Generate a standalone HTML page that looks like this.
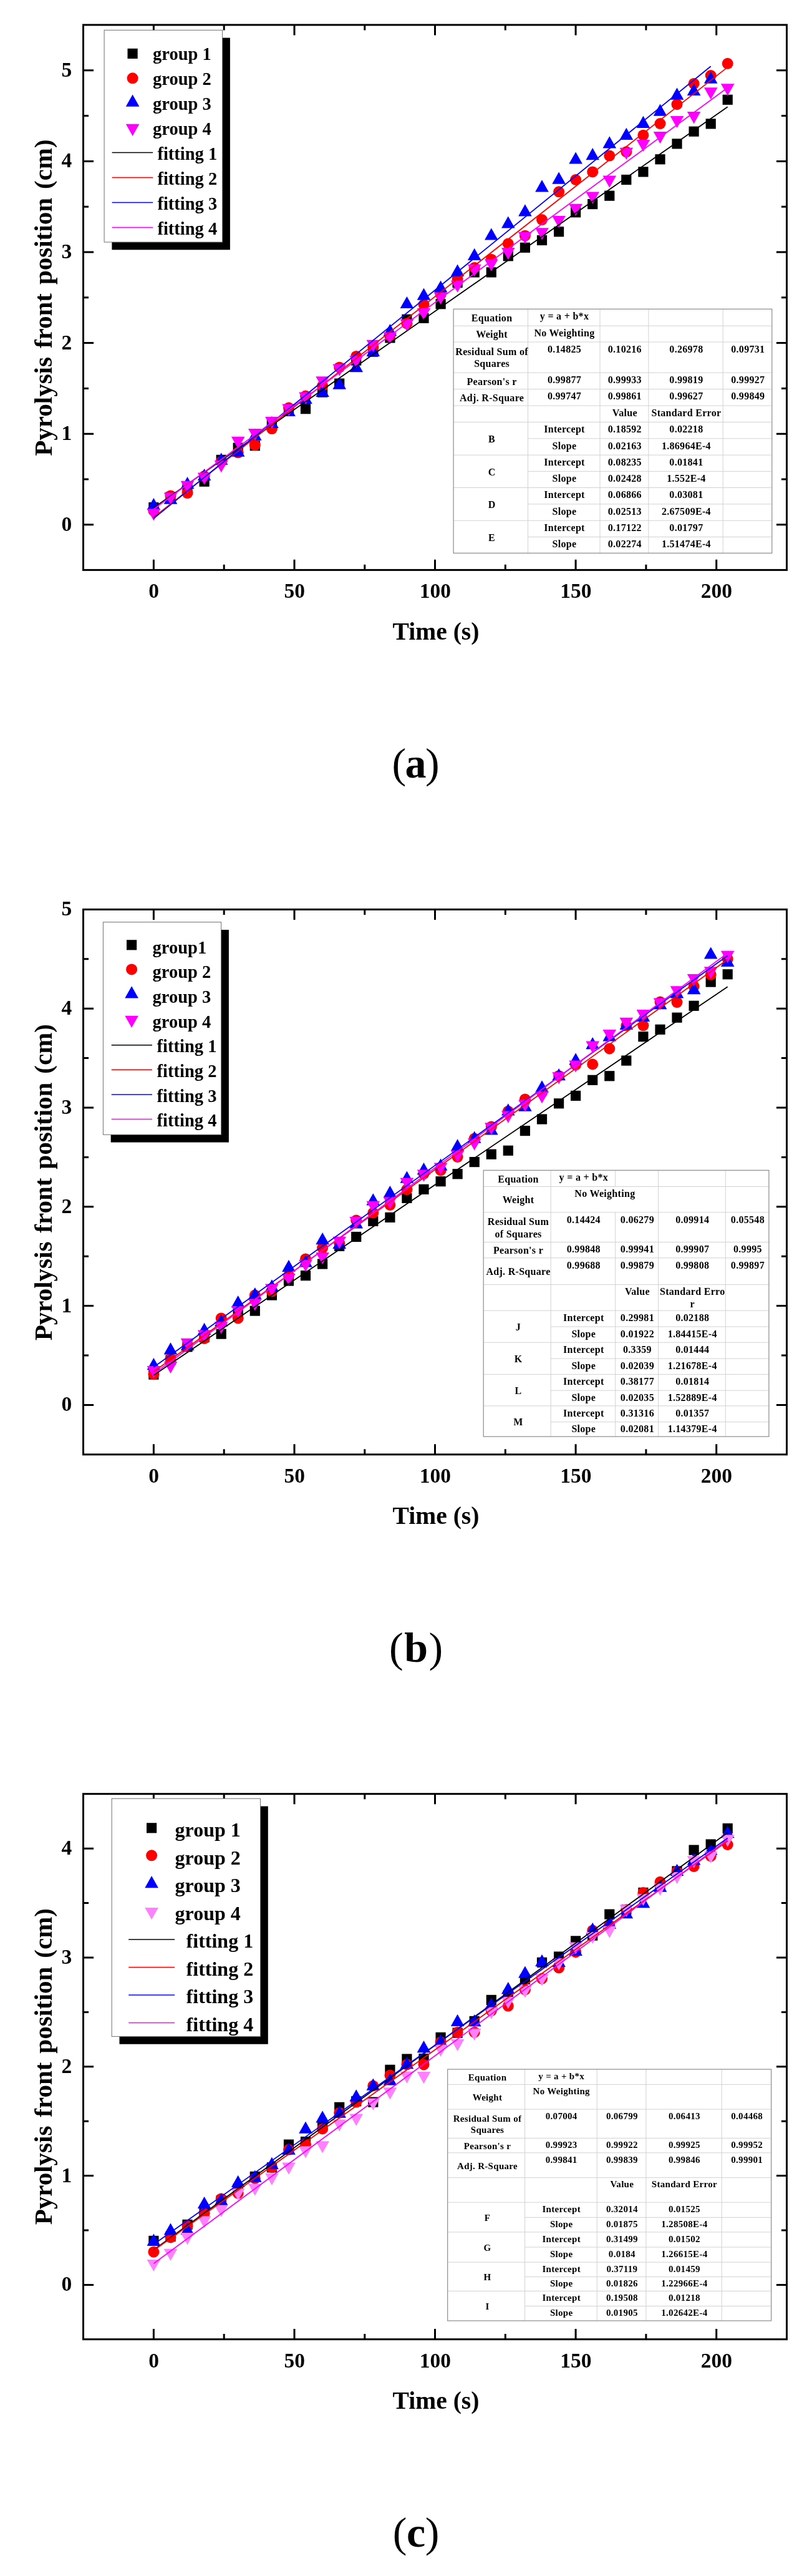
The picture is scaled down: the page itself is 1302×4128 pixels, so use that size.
<!DOCTYPE html>
<html lang="en"><head><meta charset="utf-8"><title>Pyrolysis front position vs time</title>
<style>html,body{margin:0;padding:0;background:#fff}body{width:1302px;height:4128px;overflow:hidden}svg{display:block;will-change:transform}</style>
</head><body>
<svg width="1302" height="4128" viewBox="0 0 1302 4128">
<g id="chart-a">
<rect x="238.3" y="805.0" width="16.2" height="16.2" fill="#000000"/>
<rect x="265.4" y="788.5" width="16.2" height="16.2" fill="#000000"/>
<rect x="292.4" y="771.1" width="16.2" height="16.2" fill="#000000"/>
<rect x="319.5" y="763.6" width="16.2" height="16.2" fill="#000000"/>
<rect x="346.6" y="728.8" width="16.2" height="16.2" fill="#000000"/>
<rect x="373.6" y="709.5" width="16.2" height="16.2" fill="#000000"/>
<rect x="400.7" y="706.1" width="16.2" height="16.2" fill="#000000"/>
<rect x="427.8" y="670.6" width="16.2" height="16.2" fill="#000000"/>
<rect x="454.9" y="648.7" width="16.2" height="16.2" fill="#000000"/>
<rect x="481.9" y="647.1" width="16.2" height="16.2" fill="#000000"/>
<rect x="509.0" y="620.5" width="16.2" height="16.2" fill="#000000"/>
<rect x="536.1" y="606.5" width="16.2" height="16.2" fill="#000000"/>
<rect x="563.1" y="569.5" width="16.2" height="16.2" fill="#000000"/>
<rect x="590.2" y="555.6" width="16.2" height="16.2" fill="#000000"/>
<rect x="617.3" y="533.3" width="16.2" height="16.2" fill="#000000"/>
<rect x="644.3" y="503.7" width="16.2" height="16.2" fill="#000000"/>
<rect x="671.4" y="501.7" width="16.2" height="16.2" fill="#000000"/>
<rect x="698.5" y="479.1" width="16.2" height="16.2" fill="#000000"/>
<rect x="725.5" y="444.9" width="16.2" height="16.2" fill="#000000"/>
<rect x="752.6" y="428.3" width="16.2" height="16.2" fill="#000000"/>
<rect x="779.7" y="428.3" width="16.2" height="16.2" fill="#000000"/>
<rect x="806.7" y="402.2" width="16.2" height="16.2" fill="#000000"/>
<rect x="833.8" y="388.7" width="16.2" height="16.2" fill="#000000"/>
<rect x="860.9" y="376.9" width="16.2" height="16.2" fill="#000000"/>
<rect x="888.0" y="363.2" width="16.2" height="16.2" fill="#000000"/>
<rect x="915.0" y="332.2" width="16.2" height="16.2" fill="#000000"/>
<rect x="942.1" y="319.0" width="16.2" height="16.2" fill="#000000"/>
<rect x="969.2" y="305.6" width="16.2" height="16.2" fill="#000000"/>
<rect x="996.2" y="279.9" width="16.2" height="16.2" fill="#000000"/>
<rect x="1023.3" y="267.3" width="16.2" height="16.2" fill="#000000"/>
<rect x="1050.4" y="247.2" width="16.2" height="16.2" fill="#000000"/>
<rect x="1077.4" y="222.3" width="16.2" height="16.2" fill="#000000"/>
<rect x="1104.5" y="202.6" width="16.2" height="16.2" fill="#000000"/>
<rect x="1131.6" y="190.3" width="16.2" height="16.2" fill="#000000"/>
<rect x="1158.6" y="151.7" width="16.2" height="16.2" fill="#000000"/>
<circle cx="246.4" cy="818.5" r="9.0" fill="#ff0000"/>
<circle cx="273.5" cy="794.4" r="9.0" fill="#ff0000"/>
<circle cx="300.5" cy="790.1" r="9.0" fill="#ff0000"/>
<circle cx="327.6" cy="763.1" r="9.0" fill="#ff0000"/>
<circle cx="354.7" cy="739.8" r="9.0" fill="#ff0000"/>
<circle cx="381.7" cy="725.3" r="9.0" fill="#ff0000"/>
<circle cx="408.8" cy="713.2" r="9.0" fill="#ff0000"/>
<circle cx="435.9" cy="687.1" r="9.0" fill="#ff0000"/>
<circle cx="463.0" cy="653.6" r="9.0" fill="#ff0000"/>
<circle cx="490.0" cy="634.6" r="9.0" fill="#ff0000"/>
<circle cx="517.1" cy="618.3" r="9.0" fill="#ff0000"/>
<circle cx="544.2" cy="588.7" r="9.0" fill="#ff0000"/>
<circle cx="571.2" cy="570.9" r="9.0" fill="#ff0000"/>
<circle cx="598.3" cy="556.2" r="9.0" fill="#ff0000"/>
<circle cx="625.4" cy="537.9" r="9.0" fill="#ff0000"/>
<circle cx="652.4" cy="518.4" r="9.0" fill="#ff0000"/>
<circle cx="679.5" cy="488.1" r="9.0" fill="#ff0000"/>
<circle cx="706.6" cy="471.9" r="9.0" fill="#ff0000"/>
<circle cx="733.6" cy="446.7" r="9.0" fill="#ff0000"/>
<circle cx="760.7" cy="429.0" r="9.0" fill="#ff0000"/>
<circle cx="787.8" cy="415.7" r="9.0" fill="#ff0000"/>
<circle cx="814.8" cy="390.5" r="9.0" fill="#ff0000"/>
<circle cx="841.9" cy="377.7" r="9.0" fill="#ff0000"/>
<circle cx="869.0" cy="352.1" r="9.0" fill="#ff0000"/>
<circle cx="896.1" cy="307.3" r="9.0" fill="#ff0000"/>
<circle cx="923.1" cy="288.0" r="9.0" fill="#ff0000"/>
<circle cx="950.2" cy="275.4" r="9.0" fill="#ff0000"/>
<circle cx="977.3" cy="249.6" r="9.0" fill="#ff0000"/>
<circle cx="1004.3" cy="243.3" r="9.0" fill="#ff0000"/>
<circle cx="1031.4" cy="216.7" r="9.0" fill="#ff0000"/>
<circle cx="1058.5" cy="198.1" r="9.0" fill="#ff0000"/>
<circle cx="1085.5" cy="167.2" r="9.0" fill="#ff0000"/>
<circle cx="1112.6" cy="133.9" r="9.0" fill="#ff0000"/>
<circle cx="1139.7" cy="121.0" r="9.0" fill="#ff0000"/>
<circle cx="1166.7" cy="101.8" r="9.0" fill="#ff0000"/>
<polygon points="246.4,797.9 257.2,817.1 235.6,817.1" fill="#0000ff"/>
<polygon points="273.5,788.5 284.3,807.7 262.7,807.7" fill="#0000ff"/>
<polygon points="300.5,764.0 311.3,783.2 289.7,783.2" fill="#0000ff"/>
<polygon points="327.6,750.9 338.4,770.1 316.8,770.1" fill="#0000ff"/>
<polygon points="354.7,725.6 365.5,744.8 343.9,744.8" fill="#0000ff"/>
<polygon points="381.7,712.5 392.5,731.7 370.9,731.7" fill="#0000ff"/>
<polygon points="408.8,686.6 419.6,705.8 398.0,705.8" fill="#0000ff"/>
<polygon points="435.9,666.8 446.7,686.0 425.1,686.0" fill="#0000ff"/>
<polygon points="463.0,647.7 473.8,666.9 452.2,666.9" fill="#0000ff"/>
<polygon points="490.0,627.9 500.8,647.1 479.2,647.1" fill="#0000ff"/>
<polygon points="517.1,616.7 527.9,635.9 506.3,635.9" fill="#0000ff"/>
<polygon points="544.2,604.6 555.0,623.8 533.4,623.8" fill="#0000ff"/>
<polygon points="571.2,577.1 582.0,596.3 560.4,596.3" fill="#0000ff"/>
<polygon points="598.3,551.9 609.1,571.1 587.5,571.1" fill="#0000ff"/>
<polygon points="625.4,519.1 636.2,538.3 614.6,538.3" fill="#0000ff"/>
<polygon points="652.4,474.9 663.2,494.1 641.6,494.1" fill="#0000ff"/>
<polygon points="679.5,461.5 690.3,480.7 668.7,480.7" fill="#0000ff"/>
<polygon points="706.6,449.4 717.4,468.6 695.8,468.6" fill="#0000ff"/>
<polygon points="733.6,423.6 744.4,442.8 722.8,442.8" fill="#0000ff"/>
<polygon points="760.7,397.8 771.5,417.0 749.9,417.0" fill="#0000ff"/>
<polygon points="787.8,365.4 798.6,384.6 777.0,384.6" fill="#0000ff"/>
<polygon points="814.8,346.4 825.6,365.6 804.0,365.6" fill="#0000ff"/>
<polygon points="841.9,327.2 852.7,346.4 831.1,346.4" fill="#0000ff"/>
<polygon points="869.0,288.2 879.8,307.4 858.2,307.4" fill="#0000ff"/>
<polygon points="896.1,275.5 906.9,294.7 885.3,294.7" fill="#0000ff"/>
<polygon points="923.1,243.4 933.9,262.6 912.3,262.6" fill="#0000ff"/>
<polygon points="950.2,237.1 961.0,256.3 939.4,256.3" fill="#0000ff"/>
<polygon points="977.3,218.2 988.1,237.4 966.5,237.4" fill="#0000ff"/>
<polygon points="1004.3,204.8 1015.1,224.0 993.5,224.0" fill="#0000ff"/>
<polygon points="1031.4,185.7 1042.2,204.9 1020.6,204.9" fill="#0000ff"/>
<polygon points="1058.5,166.5 1069.3,185.7 1047.7,185.7" fill="#0000ff"/>
<polygon points="1085.5,140.6 1096.3,159.8 1074.7,159.8" fill="#0000ff"/>
<polygon points="1112.6,133.9 1123.4,153.1 1101.8,153.1" fill="#0000ff"/>
<polygon points="1139.7,114.6 1150.5,133.8 1128.9,133.8" fill="#0000ff"/>
<polygon points="235.6,815.3 257.2,815.3 246.4,834.5" fill="#ff00ff"/>
<polygon points="262.7,789.4 284.3,789.4 273.5,808.6" fill="#ff00ff"/>
<polygon points="289.7,770.7 311.3,770.7 300.5,789.9" fill="#ff00ff"/>
<polygon points="316.8,757.6 338.4,757.6 327.6,776.8" fill="#ff00ff"/>
<polygon points="343.9,738.1 365.5,738.1 354.7,757.3" fill="#ff00ff"/>
<polygon points="370.9,699.7 392.5,699.7 381.7,718.9" fill="#ff00ff"/>
<polygon points="398.0,687.0 419.6,687.0 408.8,706.2" fill="#ff00ff"/>
<polygon points="425.1,668.1 446.7,668.1 435.9,687.3" fill="#ff00ff"/>
<polygon points="452.2,647.5 473.8,647.5 463.0,666.7" fill="#ff00ff"/>
<polygon points="479.2,628.5 500.8,628.5 490.0,647.7" fill="#ff00ff"/>
<polygon points="506.3,603.3 527.9,603.3 517.1,622.5" fill="#ff00ff"/>
<polygon points="533.4,583.5 555.0,583.5 544.2,602.7" fill="#ff00ff"/>
<polygon points="560.4,570.2 582.0,570.2 571.2,589.4" fill="#ff00ff"/>
<polygon points="587.5,544.7 609.1,544.7 598.3,563.9" fill="#ff00ff"/>
<polygon points="614.6,532.4 636.2,532.4 625.4,551.6" fill="#ff00ff"/>
<polygon points="641.6,511.7 663.2,511.7 652.4,530.9" fill="#ff00ff"/>
<polygon points="668.7,493.9 690.3,493.9 679.5,513.1" fill="#ff00ff"/>
<polygon points="695.8,468.7 717.4,468.7 706.6,487.9" fill="#ff00ff"/>
<polygon points="722.8,449.5 744.4,449.5 733.6,468.7" fill="#ff00ff"/>
<polygon points="749.9,423.7 771.5,423.7 760.7,442.9" fill="#ff00ff"/>
<polygon points="777.0,415.6 798.6,415.6 787.8,434.8" fill="#ff00ff"/>
<polygon points="804.0,397.1 825.6,397.1 814.8,416.3" fill="#ff00ff"/>
<polygon points="831.1,371.9 852.7,371.9 841.9,391.1" fill="#ff00ff"/>
<polygon points="858.2,365.2 879.8,365.2 869.0,384.4" fill="#ff00ff"/>
<polygon points="885.3,346.0 906.9,346.0 896.1,365.2" fill="#ff00ff"/>
<polygon points="912.3,326.8 933.9,326.8 923.1,346.0" fill="#ff00ff"/>
<polygon points="939.4,307.6 961.0,307.6 950.2,326.8" fill="#ff00ff"/>
<polygon points="966.5,281.6 988.1,281.6 977.3,300.8" fill="#ff00ff"/>
<polygon points="993.5,236.7 1015.1,236.7 1004.3,255.9" fill="#ff00ff"/>
<polygon points="1020.6,224.0 1042.2,224.0 1031.4,243.2" fill="#ff00ff"/>
<polygon points="1047.7,211.0 1069.3,211.0 1058.5,230.2" fill="#ff00ff"/>
<polygon points="1074.7,186.1 1096.3,186.1 1085.5,205.3" fill="#ff00ff"/>
<polygon points="1101.8,179.0 1123.4,179.0 1112.6,198.2" fill="#ff00ff"/>
<polygon points="1128.9,140.3 1150.5,140.3 1139.7,159.5" fill="#ff00ff"/>
<polygon points="1155.9,134.2 1177.5,134.2 1166.7,153.4" fill="#ff00ff"/>
<line x1="246.4" y1="813.7" x2="1166.7" y2="171.3" stroke="#000000" stroke-width="1.8"/>
<line x1="246.4" y1="828.8" x2="1166.7" y2="107.6" stroke="#ff0000" stroke-width="1.8"/>
<line x1="246.4" y1="830.8" x2="1139.7" y2="106.3" stroke="#0000ff" stroke-width="1.8"/>
<line x1="246.4" y1="815.9" x2="1166.7" y2="140.4" stroke="#ff00ff" stroke-width="1.8"/>
<path d="M246.4 913.4v-16.6M246.4 39.9v16.6M472.0 913.4v-16.6M472.0 39.9v16.6M697.5 913.4v-16.6M697.5 39.9v16.6M923.1 913.4v-16.6M923.1 39.9v16.6M1148.7 913.4v-16.6M1148.7 39.9v16.6M359.2 913.4v-8.6M359.2 39.9v8.6M584.8 913.4v-8.6M584.8 39.9v8.6M810.3 913.4v-8.6M810.3 39.9v8.6M1035.9 913.4v-8.6M1035.9 39.9v8.6M133.5 840.8h16.6M1261.5 840.8h-16.6M133.5 695.2h16.6M1261.5 695.2h-16.6M133.5 549.6h16.6M1261.5 549.6h-16.6M133.5 404.0h16.6M1261.5 404.0h-16.6M133.5 258.4h16.6M1261.5 258.4h-16.6M133.5 112.8h16.6M1261.5 112.8h-16.6M133.5 768.0h8.6M1261.5 768.0h-8.6M133.5 622.4h8.6M1261.5 622.4h-8.6M133.5 476.8h8.6M1261.5 476.8h-8.6M133.5 331.2h8.6M1261.5 331.2h-8.6M133.5 185.6h8.6M1261.5 185.6h-8.6" stroke="#000" stroke-width="3" fill="none"/>
<rect x="133.5" y="39.9" width="1128.0" height="873.5" fill="none" stroke="#000" stroke-width="3"/>
<g font-family='"Liberation Serif", "DejaVu Serif", serif' font-weight="bold" font-size="16" letter-spacing="0.3" text-anchor="middle" fill="#000"><rect x="727.1" y="495.3" width="510.7" height="391.1" fill="#fff"/><line x1="727.1" y1="522.2" x2="1237.8" y2="522.2" stroke="#d2d2d2" stroke-width="1"/><line x1="727.1" y1="548.0" x2="1237.8" y2="548.0" stroke="#d2d2d2" stroke-width="1"/><line x1="727.1" y1="597.2" x2="1237.8" y2="597.2" stroke="#d2d2d2" stroke-width="1"/><line x1="727.1" y1="623.6" x2="1237.8" y2="623.6" stroke="#d2d2d2" stroke-width="1"/><line x1="727.1" y1="650.1" x2="1237.8" y2="650.1" stroke="#d2d2d2" stroke-width="1"/><line x1="727.1" y1="676.4" x2="1237.8" y2="676.4" stroke="#d2d2d2" stroke-width="1"/><line x1="846.5" y1="702.8" x2="1237.8" y2="702.8" stroke="#d2d2d2" stroke-width="1"/><line x1="727.1" y1="729.2" x2="1237.8" y2="729.2" stroke="#d2d2d2" stroke-width="1"/><line x1="846.5" y1="755.3" x2="1237.8" y2="755.3" stroke="#d2d2d2" stroke-width="1"/><line x1="727.1" y1="781.5" x2="1237.8" y2="781.5" stroke="#d2d2d2" stroke-width="1"/><line x1="846.5" y1="807.8" x2="1237.8" y2="807.8" stroke="#d2d2d2" stroke-width="1"/><line x1="727.1" y1="834.2" x2="1237.8" y2="834.2" stroke="#d2d2d2" stroke-width="1"/><line x1="846.5" y1="860.4" x2="1237.8" y2="860.4" stroke="#d2d2d2" stroke-width="1"/><line x1="846.5" y1="495.3" x2="846.5" y2="886.4" stroke="#d2d2d2" stroke-width="1"/><line x1="962.0" y1="495.3" x2="962.0" y2="886.4" stroke="#d2d2d2" stroke-width="1"/><line x1="1039.9" y1="495.3" x2="1039.9" y2="886.4" stroke="#d2d2d2" stroke-width="1"/><line x1="1159.2" y1="495.3" x2="1159.2" y2="886.4" stroke="#d2d2d2" stroke-width="1"/><rect x="727.1" y="495.3" width="510.7" height="391.1" fill="none" stroke="#8c8c8c" stroke-width="1.2"/><text x="788.6" y="515.0">Equation</text><text x="788.6" y="541.3">Weight</text><text x="788.6" y="569.2">Residual Sum of</text><text x="788.6" y="588.4">Squares</text><text x="788.6" y="616.6">Pearson's r</text><text x="788.6" y="643.1">Adj. R-Square</text><text x="905.0" y="512.0">y = a + b*x</text><text x="905.0" y="538.9">No Weighting</text><text x="905.0" y="564.7">0.14825</text><text x="1001.8" y="564.7">0.10216</text><text x="1100.4" y="564.7">0.26978</text><text x="1199.3" y="564.7">0.09731</text><text x="905.0" y="613.9">0.99877</text><text x="1001.8" y="613.9">0.99933</text><text x="1100.4" y="613.9">0.99819</text><text x="1199.3" y="613.9">0.99927</text><text x="905.0" y="640.3">0.99747</text><text x="1001.8" y="640.3">0.99861</text><text x="1100.4" y="640.3">0.99627</text><text x="1199.3" y="640.3">0.99849</text><text x="1001.8" y="666.8">Value</text><text x="1100.4" y="666.8">Standard Error</text><text x="788.6" y="709.0">B</text><text x="905.0" y="693.1">Intercept</text><text x="905.0" y="719.5">Slope</text><text x="1001.8" y="693.1">0.18592</text><text x="1001.8" y="719.5">0.02163</text><text x="1100.4" y="693.1">0.02218</text><text x="1100.4" y="719.5">1.86964E-4</text><text x="788.6" y="761.6">C</text><text x="905.0" y="745.9">Intercept</text><text x="905.0" y="772.0">Slope</text><text x="1001.8" y="745.9">0.08235</text><text x="1001.8" y="772.0">0.02428</text><text x="1100.4" y="745.9">0.01841</text><text x="1100.4" y="772.0">1.552E-4</text><text x="788.6" y="814.1">D</text><text x="905.0" y="798.2">Intercept</text><text x="905.0" y="824.5">Slope</text><text x="1001.8" y="798.2">0.06866</text><text x="1001.8" y="824.5">0.02513</text><text x="1100.4" y="798.2">0.03081</text><text x="1100.4" y="824.5">2.67509E-4</text><text x="788.6" y="866.5">E</text><text x="905.0" y="850.9">Intercept</text><text x="905.0" y="877.1">Slope</text><text x="1001.8" y="850.9">0.17122</text><text x="1001.8" y="877.1">0.02274</text><text x="1100.4" y="850.9">0.01797</text><text x="1100.4" y="877.1">1.51474E-4</text></g>
<rect x="179.4" y="60.6" width="189.5" height="339.7" fill="#000"/>
<rect x="167.1" y="48.3" width="189.5" height="339.7" fill="#fff" stroke="#6e6e6e" stroke-width="1"/>
<g font-family='"Liberation Serif", "DejaVu Serif", serif' font-weight="bold" font-size="28.5" fill="#000">
<rect x="204.5" y="77.8" width="16.2" height="16.2" fill="#000000"/>
<text x="245.0" y="96.4">group 1</text>
<circle cx="212.6" cy="125.3" r="9.0" fill="#ff0000"/>
<text x="245.0" y="136.4">group 2</text>
<polygon points="212.6,151.5 223.4,170.7 201.8,170.7" fill="#0000ff"/>
<text x="245.0" y="176.3">group 3</text>
<polygon points="201.8,198.8 223.4,198.8 212.6,218.0" fill="#ff00ff"/>
<text x="245.0" y="216.3">group 4</text>
<line x1="179.6" y1="244.6" x2="245.2" y2="244.6" stroke="#000000" stroke-width="1.5"/>
<text x="252.4" y="256.2">fitting 1</text>
<line x1="179.6" y1="284.5" x2="245.2" y2="284.5" stroke="#ff0000" stroke-width="1.5"/>
<text x="252.4" y="296.2">fitting 2</text>
<line x1="179.6" y1="324.5" x2="245.2" y2="324.5" stroke="#0000ff" stroke-width="1.5"/>
<text x="252.4" y="336.2">fitting 3</text>
<line x1="179.6" y1="364.4" x2="245.2" y2="364.4" stroke="#ff00ff" stroke-width="1.5"/>
<text x="252.4" y="376.1">fitting 4</text>
</g>
<g font-family='"Liberation Serif", "DejaVu Serif", serif' font-weight="bold" font-size="33.5" fill="#000">
<text x="246.6" y="958.4" text-anchor="middle">0</text>
<text x="472.2" y="958.4" text-anchor="middle">50</text>
<text x="697.8" y="958.4" text-anchor="middle">100</text>
<text x="923.3" y="958.4" text-anchor="middle">150</text>
<text x="1148.9" y="958.4" text-anchor="middle">200</text>
<text x="115.2" y="850.8" text-anchor="end">0</text>
<text x="115.2" y="705.2" text-anchor="end">1</text>
<text x="115.2" y="559.6" text-anchor="end">2</text>
<text x="115.2" y="414.0" text-anchor="end">3</text>
<text x="115.2" y="268.4" text-anchor="end">4</text>
<text x="115.2" y="122.8" text-anchor="end">5</text>
</g>
<text x="699" y="1024.6" text-anchor="middle" font-family='"Liberation Serif", "DejaVu Serif", serif' font-weight="bold" font-size="39.6" fill="#000">Time (s)</text>
<text transform="translate(82.6 477.1) rotate(-90)" text-anchor="middle" font-family='"Liberation Serif", "DejaVu Serif", serif' font-weight="bold" font-size="41" word-spacing="3.7" fill="#000">Pyrolysis front position (cm)</text>
<text x="665.8" y="1245.5" text-anchor="middle" font-family='"Liberation Serif", "DejaVu Serif", serif' font-size="68" letter-spacing="-1.5" fill="#000">(<tspan font-weight="bold">a</tspan>)</text>
</g>
<g id="chart-b">
<rect x="238.3" y="2194.5" width="16.2" height="16.2" fill="#000000"/>
<rect x="265.4" y="2171.4" width="16.2" height="16.2" fill="#000000"/>
<rect x="292.4" y="2150.2" width="16.2" height="16.2" fill="#000000"/>
<rect x="319.5" y="2134.9" width="16.2" height="16.2" fill="#000000"/>
<rect x="346.6" y="2129.5" width="16.2" height="16.2" fill="#000000"/>
<rect x="373.6" y="2095.2" width="16.2" height="16.2" fill="#000000"/>
<rect x="400.7" y="2092.5" width="16.2" height="16.2" fill="#000000"/>
<rect x="427.8" y="2067.4" width="16.2" height="16.2" fill="#000000"/>
<rect x="454.9" y="2044.4" width="16.2" height="16.2" fill="#000000"/>
<rect x="481.9" y="2036.0" width="16.2" height="16.2" fill="#000000"/>
<rect x="509.0" y="2017.4" width="16.2" height="16.2" fill="#000000"/>
<rect x="536.1" y="1988.8" width="16.2" height="16.2" fill="#000000"/>
<rect x="563.1" y="1973.9" width="16.2" height="16.2" fill="#000000"/>
<rect x="590.2" y="1948.8" width="16.2" height="16.2" fill="#000000"/>
<rect x="617.3" y="1942.8" width="16.2" height="16.2" fill="#000000"/>
<rect x="644.3" y="1911.8" width="16.2" height="16.2" fill="#000000"/>
<rect x="671.4" y="1897.8" width="16.2" height="16.2" fill="#000000"/>
<rect x="698.5" y="1885.1" width="16.2" height="16.2" fill="#000000"/>
<rect x="725.5" y="1873.2" width="16.2" height="16.2" fill="#000000"/>
<rect x="752.6" y="1854.0" width="16.2" height="16.2" fill="#000000"/>
<rect x="779.7" y="1841.6" width="16.2" height="16.2" fill="#000000"/>
<rect x="806.7" y="1835.7" width="16.2" height="16.2" fill="#000000"/>
<rect x="833.8" y="1804.0" width="16.2" height="16.2" fill="#000000"/>
<rect x="860.9" y="1785.4" width="16.2" height="16.2" fill="#000000"/>
<rect x="888.0" y="1760.2" width="16.2" height="16.2" fill="#000000"/>
<rect x="915.0" y="1747.8" width="16.2" height="16.2" fill="#000000"/>
<rect x="942.1" y="1722.7" width="16.2" height="16.2" fill="#000000"/>
<rect x="969.2" y="1716.2" width="16.2" height="16.2" fill="#000000"/>
<rect x="996.2" y="1691.5" width="16.2" height="16.2" fill="#000000"/>
<rect x="1023.3" y="1653.1" width="16.2" height="16.2" fill="#000000"/>
<rect x="1050.4" y="1641.7" width="16.2" height="16.2" fill="#000000"/>
<rect x="1077.4" y="1622.6" width="16.2" height="16.2" fill="#000000"/>
<rect x="1104.5" y="1603.7" width="16.2" height="16.2" fill="#000000"/>
<rect x="1131.6" y="1565.5" width="16.2" height="16.2" fill="#000000"/>
<rect x="1158.6" y="1553.2" width="16.2" height="16.2" fill="#000000"/>
<circle cx="246.4" cy="2201.9" r="9.0" fill="#ff0000"/>
<circle cx="273.5" cy="2177.5" r="9.0" fill="#ff0000"/>
<circle cx="300.5" cy="2156.8" r="9.0" fill="#ff0000"/>
<circle cx="327.6" cy="2144.9" r="9.0" fill="#ff0000"/>
<circle cx="354.7" cy="2112.4" r="9.0" fill="#ff0000"/>
<circle cx="381.7" cy="2112.4" r="9.0" fill="#ff0000"/>
<circle cx="408.8" cy="2075.5" r="9.0" fill="#ff0000"/>
<circle cx="435.9" cy="2069.5" r="9.0" fill="#ff0000"/>
<circle cx="463.0" cy="2044.1" r="9.0" fill="#ff0000"/>
<circle cx="490.0" cy="2017.4" r="9.0" fill="#ff0000"/>
<circle cx="517.1" cy="1999.8" r="9.0" fill="#ff0000"/>
<circle cx="544.2" cy="1992.3" r="9.0" fill="#ff0000"/>
<circle cx="571.2" cy="1955.5" r="9.0" fill="#ff0000"/>
<circle cx="598.3" cy="1943.6" r="9.0" fill="#ff0000"/>
<circle cx="625.4" cy="1930.9" r="9.0" fill="#ff0000"/>
<circle cx="652.4" cy="1906.2" r="9.0" fill="#ff0000"/>
<circle cx="679.5" cy="1880.8" r="9.0" fill="#ff0000"/>
<circle cx="706.6" cy="1875.4" r="9.0" fill="#ff0000"/>
<circle cx="733.6" cy="1854.0" r="9.0" fill="#ff0000"/>
<circle cx="760.7" cy="1824.6" r="9.0" fill="#ff0000"/>
<circle cx="787.8" cy="1805.4" r="9.0" fill="#ff0000"/>
<circle cx="814.8" cy="1780.8" r="9.0" fill="#ff0000"/>
<circle cx="841.9" cy="1761.4" r="9.0" fill="#ff0000"/>
<circle cx="869.0" cy="1750.8" r="9.0" fill="#ff0000"/>
<circle cx="896.1" cy="1723.9" r="9.0" fill="#ff0000"/>
<circle cx="923.1" cy="1706.5" r="9.0" fill="#ff0000"/>
<circle cx="950.2" cy="1705.5" r="9.0" fill="#ff0000"/>
<circle cx="977.3" cy="1680.4" r="9.0" fill="#ff0000"/>
<circle cx="1004.3" cy="1643.6" r="9.0" fill="#ff0000"/>
<circle cx="1031.4" cy="1643.3" r="9.0" fill="#ff0000"/>
<circle cx="1058.5" cy="1605.6" r="9.0" fill="#ff0000"/>
<circle cx="1085.5" cy="1606.1" r="9.0" fill="#ff0000"/>
<circle cx="1112.6" cy="1580.5" r="9.0" fill="#ff0000"/>
<circle cx="1139.7" cy="1561.8" r="9.0" fill="#ff0000"/>
<circle cx="1166.7" cy="1536.7" r="9.0" fill="#ff0000"/>
<polygon points="246.4,2176.0 257.2,2195.2 235.6,2195.2" fill="#0000ff"/>
<polygon points="273.5,2151.3 284.3,2170.5 262.7,2170.5" fill="#0000ff"/>
<polygon points="300.5,2144.8 311.3,2164.0 289.7,2164.0" fill="#0000ff"/>
<polygon points="327.6,2119.7 338.4,2138.9 316.8,2138.9" fill="#0000ff"/>
<polygon points="354.7,2106.4 365.5,2125.6 343.9,2125.6" fill="#0000ff"/>
<polygon points="381.7,2076.1 392.5,2095.3 370.9,2095.3" fill="#0000ff"/>
<polygon points="408.8,2063.0 419.6,2082.2 398.0,2082.2" fill="#0000ff"/>
<polygon points="435.9,2050.3 446.7,2069.5 425.1,2069.5" fill="#0000ff"/>
<polygon points="463.0,2018.7 473.8,2037.9 452.2,2037.9" fill="#0000ff"/>
<polygon points="490.0,2011.4 500.8,2030.6 479.2,2030.6" fill="#0000ff"/>
<polygon points="517.1,1975.1 527.9,1994.3 506.3,1994.3" fill="#0000ff"/>
<polygon points="544.2,1981.9 555.0,2001.1 533.4,2001.1" fill="#0000ff"/>
<polygon points="571.2,1949.3 582.0,1968.5 560.4,1968.5" fill="#0000ff"/>
<polygon points="598.3,1912.3 609.1,1931.5 587.5,1931.5" fill="#0000ff"/>
<polygon points="625.4,1900.0 636.2,1919.2 614.6,1919.2" fill="#0000ff"/>
<polygon points="652.4,1876.6 663.2,1895.8 641.6,1895.8" fill="#0000ff"/>
<polygon points="679.5,1863.0 690.3,1882.2 668.7,1882.2" fill="#0000ff"/>
<polygon points="706.6,1856.4 717.4,1875.6 695.8,1875.6" fill="#0000ff"/>
<polygon points="733.6,1825.2 744.4,1844.4 722.8,1844.4" fill="#0000ff"/>
<polygon points="760.7,1812.6 771.5,1831.8 749.9,1831.8" fill="#0000ff"/>
<polygon points="787.8,1799.4 798.6,1818.6 777.0,1818.6" fill="#0000ff"/>
<polygon points="814.8,1768.3 825.6,1787.5 804.0,1787.5" fill="#0000ff"/>
<polygon points="841.9,1761.6 852.7,1780.8 831.1,1780.8" fill="#0000ff"/>
<polygon points="869.0,1731.3 879.8,1750.5 858.2,1750.5" fill="#0000ff"/>
<polygon points="896.1,1712.1 906.9,1731.3 885.3,1731.3" fill="#0000ff"/>
<polygon points="923.1,1687.2 933.9,1706.4 912.3,1706.4" fill="#0000ff"/>
<polygon points="950.2,1662.1 961.0,1681.3 939.4,1681.3" fill="#0000ff"/>
<polygon points="977.3,1649.4 988.1,1668.6 966.5,1668.6" fill="#0000ff"/>
<polygon points="1004.3,1630.8 1015.1,1650.0 993.5,1650.0" fill="#0000ff"/>
<polygon points="1031.4,1617.8 1042.2,1637.0 1020.6,1637.0" fill="#0000ff"/>
<polygon points="1058.5,1598.1 1069.3,1617.3 1047.7,1617.3" fill="#0000ff"/>
<polygon points="1085.5,1580.3 1096.3,1599.5 1074.7,1599.5" fill="#0000ff"/>
<polygon points="1112.6,1574.1 1123.4,1593.3 1101.8,1593.3" fill="#0000ff"/>
<polygon points="1139.7,1517.4 1150.5,1536.6 1128.9,1536.6" fill="#0000ff"/>
<polygon points="1166.7,1529.8 1177.5,1549.0 1155.9,1549.0" fill="#0000ff"/>
<polygon points="235.6,2189.0 257.2,2189.0 246.4,2208.2" fill="#ff00ff"/>
<polygon points="262.7,2181.7 284.3,2181.7 273.5,2200.9" fill="#ff00ff"/>
<polygon points="289.7,2144.7 311.3,2144.7 300.5,2163.9" fill="#ff00ff"/>
<polygon points="316.8,2131.4 338.4,2131.4 327.6,2150.6" fill="#ff00ff"/>
<polygon points="343.9,2118.2 365.5,2118.2 354.7,2137.4" fill="#ff00ff"/>
<polygon points="370.9,2092.9 392.5,2092.9 381.7,2112.1" fill="#ff00ff"/>
<polygon points="398.0,2081.2 419.6,2081.2 408.8,2100.4" fill="#ff00ff"/>
<polygon points="425.1,2057.5 446.7,2057.5 435.9,2076.7" fill="#ff00ff"/>
<polygon points="452.2,2040.9 473.8,2040.9 463.0,2060.1" fill="#ff00ff"/>
<polygon points="479.2,2018.8 500.8,2018.8 490.0,2038.0" fill="#ff00ff"/>
<polygon points="506.3,2006.9 527.9,2006.9 517.1,2026.1" fill="#ff00ff"/>
<polygon points="533.4,1981.8 555.0,1981.8 544.2,2001.0" fill="#ff00ff"/>
<polygon points="560.4,1949.9 582.0,1949.9 571.2,1969.1" fill="#ff00ff"/>
<polygon points="587.5,1924.8 609.1,1924.8 598.3,1944.0" fill="#ff00ff"/>
<polygon points="614.6,1918.3 636.2,1918.3 625.4,1937.5" fill="#ff00ff"/>
<polygon points="641.6,1887.6 663.2,1887.6 652.4,1906.8" fill="#ff00ff"/>
<polygon points="668.7,1874.6 690.3,1874.6 679.5,1893.8" fill="#ff00ff"/>
<polygon points="695.8,1863.5 717.4,1863.5 706.6,1882.7" fill="#ff00ff"/>
<polygon points="722.8,1843.6 744.4,1843.6 733.6,1862.8" fill="#ff00ff"/>
<polygon points="749.9,1824.4 771.5,1824.4 760.7,1843.6" fill="#ff00ff"/>
<polygon points="777.0,1799.3 798.6,1799.3 787.8,1818.5" fill="#ff00ff"/>
<polygon points="804.0,1780.6 825.6,1780.6 814.8,1799.8" fill="#ff00ff"/>
<polygon points="831.1,1762.5 852.7,1762.5 841.9,1781.7" fill="#ff00ff"/>
<polygon points="858.2,1749.0 879.8,1749.0 869.0,1768.2" fill="#ff00ff"/>
<polygon points="885.3,1718.2 906.9,1718.2 896.1,1737.4" fill="#ff00ff"/>
<polygon points="912.3,1699.4 933.9,1699.4 923.1,1718.6" fill="#ff00ff"/>
<polygon points="939.4,1668.5 961.0,1668.5 950.2,1687.7" fill="#ff00ff"/>
<polygon points="966.5,1649.9 988.1,1649.9 977.3,1669.1" fill="#ff00ff"/>
<polygon points="993.5,1630.7 1015.1,1630.7 1004.3,1649.9" fill="#ff00ff"/>
<polygon points="1020.6,1618.0 1042.2,1618.0 1031.4,1637.2" fill="#ff00ff"/>
<polygon points="1047.7,1599.4 1069.3,1599.4 1058.5,1618.6" fill="#ff00ff"/>
<polygon points="1074.7,1580.3 1096.3,1580.3 1085.5,1599.5" fill="#ff00ff"/>
<polygon points="1101.8,1561.0 1123.4,1561.0 1112.6,1580.2" fill="#ff00ff"/>
<polygon points="1128.9,1549.2 1150.5,1549.2 1139.7,1568.4" fill="#ff00ff"/>
<polygon points="1155.9,1523.7 1177.5,1523.7 1166.7,1542.9" fill="#ff00ff"/>
<line x1="246.4" y1="2203.8" x2="1166.7" y2="1581.2" stroke="#000000" stroke-width="1.8"/>
<line x1="246.4" y1="2198.1" x2="1166.7" y2="1537.5" stroke="#ff0000" stroke-width="1.8"/>
<line x1="246.4" y1="2190.8" x2="1166.7" y2="1531.5" stroke="#0000ff" stroke-width="1.8"/>
<line x1="246.4" y1="2201.7" x2="1166.7" y2="1527.5" stroke="#ff00ff" stroke-width="1.8"/>
<path d="M246.4 2330.8v-16.6M246.4 1457.4v16.6M472.0 2330.8v-16.6M472.0 1457.4v16.6M697.5 2330.8v-16.6M697.5 1457.4v16.6M923.1 2330.8v-16.6M923.1 1457.4v16.6M1148.7 2330.8v-16.6M1148.7 1457.4v16.6M359.2 2330.8v-8.6M359.2 1457.4v8.6M584.8 2330.8v-8.6M584.8 1457.4v8.6M810.3 2330.8v-8.6M810.3 1457.4v8.6M1035.9 2330.8v-8.6M1035.9 1457.4v8.6M133.5 2251.4h16.6M1261.5 2251.4h-16.6M133.5 2092.6h16.6M1261.5 2092.6h-16.6M133.5 1933.8h16.6M1261.5 1933.8h-16.6M133.5 1775.0h16.6M1261.5 1775.0h-16.6M133.5 1616.2h16.6M1261.5 1616.2h-16.6M133.5 2172.0h8.6M1261.5 2172.0h-8.6M133.5 2013.2h8.6M1261.5 2013.2h-8.6M133.5 1854.4h8.6M1261.5 1854.4h-8.6M133.5 1695.6h8.6M1261.5 1695.6h-8.6M133.5 1536.8h8.6M1261.5 1536.8h-8.6" stroke="#000" stroke-width="3" fill="none"/>
<rect x="133.5" y="1457.4" width="1128.0" height="873.4" fill="none" stroke="#000" stroke-width="3"/>
<g font-family='"Liberation Serif", "DejaVu Serif", serif' font-weight="bold" font-size="16" letter-spacing="0.3" text-anchor="middle" fill="#000"><rect x="775.2" y="1875.4" width="457.7" height="426.7" fill="#fff"/><line x1="775.2" y1="1901.5" x2="1232.9" y2="1901.5" stroke="#d2d2d2" stroke-width="1"/><line x1="775.2" y1="1942.8" x2="1232.9" y2="1942.8" stroke="#d2d2d2" stroke-width="1"/><line x1="775.2" y1="1990.5" x2="1232.9" y2="1990.5" stroke="#d2d2d2" stroke-width="1"/><line x1="775.2" y1="2015.8" x2="1232.9" y2="2015.8" stroke="#d2d2d2" stroke-width="1"/><line x1="775.2" y1="2058.6" x2="1232.9" y2="2058.6" stroke="#d2d2d2" stroke-width="1"/><line x1="775.2" y1="2100.2" x2="1232.9" y2="2100.2" stroke="#d2d2d2" stroke-width="1"/><line x1="883.2" y1="2126.0" x2="1232.9" y2="2126.0" stroke="#d2d2d2" stroke-width="1"/><line x1="775.2" y1="2151.3" x2="1232.9" y2="2151.3" stroke="#d2d2d2" stroke-width="1"/><line x1="883.2" y1="2177.1" x2="1232.9" y2="2177.1" stroke="#d2d2d2" stroke-width="1"/><line x1="775.2" y1="2202.4" x2="1232.9" y2="2202.4" stroke="#d2d2d2" stroke-width="1"/><line x1="883.2" y1="2228.2" x2="1232.9" y2="2228.2" stroke="#d2d2d2" stroke-width="1"/><line x1="775.2" y1="2252.9" x2="1232.9" y2="2252.9" stroke="#d2d2d2" stroke-width="1"/><line x1="883.2" y1="2278.7" x2="1232.9" y2="2278.7" stroke="#d2d2d2" stroke-width="1"/><line x1="883.2" y1="1875.4" x2="883.2" y2="2302.1" stroke="#d2d2d2" stroke-width="1"/><line x1="986.7" y1="1875.4" x2="986.7" y2="1901.5" stroke="#d2d2d2" stroke-width="1"/><line x1="986.7" y1="1942.8" x2="986.7" y2="2302.1" stroke="#d2d2d2" stroke-width="1"/><line x1="1055.6" y1="1875.4" x2="1055.6" y2="2302.1" stroke="#d2d2d2" stroke-width="1"/><line x1="1163.3" y1="1875.4" x2="1163.3" y2="2302.1" stroke="#d2d2d2" stroke-width="1"/><rect x="775.2" y="1875.4" width="457.7" height="426.7" fill="none" stroke="#8c8c8c" stroke-width="1.2"/><text x="831.0" y="1894.7">Equation</text><text x="831.0" y="1928.4">Weight</text><text x="831.0" y="1963.3">Residual Sum</text><text x="831.0" y="1982.5">of Squares</text><text x="831.0" y="2009.4">Pearson's r</text><text x="831.0" y="2043.4">Adj. R-Square</text><text x="935.8" y="1892.1">y = a + b*x</text><text x="969.9" y="1918.2">No Weighting</text><text x="935.8" y="1959.5">0.14424</text><text x="1021.9" y="1959.5">0.06279</text><text x="1110.2" y="1959.5">0.09914</text><text x="1198.9" y="1959.5">0.05548</text><text x="935.8" y="2007.2">0.99848</text><text x="1021.9" y="2007.2">0.99941</text><text x="1110.2" y="2007.2">0.99907</text><text x="1198.9" y="2007.2">0.9995</text><text x="935.8" y="2032.5">0.99688</text><text x="1021.9" y="2032.5">0.99879</text><text x="1110.2" y="2032.5">0.99808</text><text x="1198.9" y="2032.5">0.99897</text><text x="1021.9" y="2075.3">Value</text><text x="1110.2" y="2075.3">Standard Erro</text><text x="1110.2" y="2094.5">r</text><text x="831.0" y="2132.0">J</text><text x="935.8" y="2116.9">Intercept</text><text x="935.8" y="2142.7">Slope</text><text x="1021.9" y="2116.9">0.29981</text><text x="1021.9" y="2142.7">0.01922</text><text x="1110.2" y="2116.9">0.02188</text><text x="1110.2" y="2142.7">1.84415E-4</text><text x="831.0" y="2183.1">K</text><text x="935.8" y="2168.0">Intercept</text><text x="935.8" y="2193.8">Slope</text><text x="1021.9" y="2168.0">0.3359</text><text x="1021.9" y="2193.8">0.02039</text><text x="1110.2" y="2168.0">0.01444</text><text x="1110.2" y="2193.8">1.21678E-4</text><text x="831.0" y="2233.9">L</text><text x="935.8" y="2219.1">Intercept</text><text x="935.8" y="2244.9">Slope</text><text x="1021.9" y="2219.1">0.38177</text><text x="1021.9" y="2244.9">0.02035</text><text x="1110.2" y="2219.1">0.01814</text><text x="1110.2" y="2244.9">1.52889E-4</text><text x="831.0" y="2283.7">M</text><text x="935.8" y="2269.6">Intercept</text><text x="935.8" y="2295.4">Slope</text><text x="1021.9" y="2269.6">0.31316</text><text x="1021.9" y="2295.4">0.02081</text><text x="1110.2" y="2269.6">0.01357</text><text x="1110.2" y="2295.4">1.14379E-4</text></g>
<rect x="177.7" y="1490.0" width="189.2" height="340.6" fill="#000"/>
<rect x="165.4" y="1477.7" width="189.2" height="340.6" fill="#fff" stroke="#6e6e6e" stroke-width="1"/>
<g font-family='"Liberation Serif", "DejaVu Serif", serif' font-weight="bold" font-size="28.5" fill="#000">
<rect x="203.0" y="1506.2" width="16.2" height="16.2" fill="#000000"/>
<text x="244.6" y="1527.8">group1</text>
<circle cx="211.1" cy="1553.4" r="9.0" fill="#ff0000"/>
<text x="244.6" y="1567.4">group 2</text>
<polygon points="211.1,1580.2 221.9,1599.4 200.3,1599.4" fill="#0000ff"/>
<text x="244.6" y="1607.1">group 3</text>
<polygon points="200.3,1627.8 221.9,1627.8 211.1,1647.0" fill="#ff00ff"/>
<text x="244.6" y="1646.7">group 4</text>
<line x1="178.7" y1="1674.7" x2="244.0" y2="1674.7" stroke="#000000" stroke-width="1.5"/>
<text x="251.6" y="1686.4">fitting 1</text>
<line x1="178.7" y1="1714.3" x2="244.0" y2="1714.3" stroke="#ff0000" stroke-width="1.5"/>
<text x="251.6" y="1726.0">fitting 2</text>
<line x1="178.7" y1="1754.0" x2="244.0" y2="1754.0" stroke="#0000ff" stroke-width="1.5"/>
<text x="251.6" y="1765.6">fitting 3</text>
<line x1="178.7" y1="1793.6" x2="244.0" y2="1793.6" stroke="#ff00ff" stroke-width="1.5"/>
<text x="251.6" y="1805.3">fitting 4</text>
</g>
<g font-family='"Liberation Serif", "DejaVu Serif", serif' font-weight="bold" font-size="33.5" fill="#000">
<text x="246.6" y="2375.8" text-anchor="middle">0</text>
<text x="472.2" y="2375.8" text-anchor="middle">50</text>
<text x="697.8" y="2375.8" text-anchor="middle">100</text>
<text x="923.3" y="2375.8" text-anchor="middle">150</text>
<text x="1148.9" y="2375.8" text-anchor="middle">200</text>
<text x="115.2" y="2261.4" text-anchor="end">0</text>
<text x="115.2" y="2102.6" text-anchor="end">1</text>
<text x="115.2" y="1943.8" text-anchor="end">2</text>
<text x="115.2" y="1785.0" text-anchor="end">3</text>
<text x="115.2" y="1626.2" text-anchor="end">4</text>
<text x="115.2" y="1467.4" text-anchor="end">5</text>
</g>
<text x="699" y="2442.0" text-anchor="middle" font-family='"Liberation Serif", "DejaVu Serif", serif' font-weight="bold" font-size="39.6" fill="#000">Time (s)</text>
<text transform="translate(82.6 1894.7) rotate(-90)" text-anchor="middle" font-family='"Liberation Serif", "DejaVu Serif", serif' font-weight="bold" font-size="41" word-spacing="3.7" fill="#000">Pyrolysis front position (cm)</text>
<text x="667.8" y="2662.9" text-anchor="middle" font-family='"Liberation Serif", "DejaVu Serif", serif' font-size="68" letter-spacing="1.5" fill="#000">(<tspan font-weight="bold">b</tspan>)</text>
</g>
<g id="chart-c">
<rect x="238.3" y="3582.8" width="16.2" height="16.2" fill="#000000"/>
<rect x="265.4" y="3576.0" width="16.2" height="16.2" fill="#000000"/>
<rect x="292.4" y="3556.8" width="16.2" height="16.2" fill="#000000"/>
<rect x="319.5" y="3537.5" width="16.2" height="16.2" fill="#000000"/>
<rect x="346.6" y="3518.0" width="16.2" height="16.2" fill="#000000"/>
<rect x="373.6" y="3499.1" width="16.2" height="16.2" fill="#000000"/>
<rect x="400.7" y="3479.8" width="16.2" height="16.2" fill="#000000"/>
<rect x="427.8" y="3465.2" width="16.2" height="16.2" fill="#000000"/>
<rect x="454.9" y="3428.5" width="16.2" height="16.2" fill="#000000"/>
<rect x="481.9" y="3423.9" width="16.2" height="16.2" fill="#000000"/>
<rect x="509.0" y="3399.4" width="16.2" height="16.2" fill="#000000"/>
<rect x="536.1" y="3368.7" width="16.2" height="16.2" fill="#000000"/>
<rect x="563.1" y="3359.2" width="16.2" height="16.2" fill="#000000"/>
<rect x="590.2" y="3360.5" width="16.2" height="16.2" fill="#000000"/>
<rect x="617.3" y="3308.7" width="16.2" height="16.2" fill="#000000"/>
<rect x="644.3" y="3291.4" width="16.2" height="16.2" fill="#000000"/>
<rect x="671.4" y="3290.9" width="16.2" height="16.2" fill="#000000"/>
<rect x="698.5" y="3256.8" width="16.2" height="16.2" fill="#000000"/>
<rect x="725.5" y="3249.5" width="16.2" height="16.2" fill="#000000"/>
<rect x="752.6" y="3230.8" width="16.2" height="16.2" fill="#000000"/>
<rect x="779.7" y="3196.8" width="16.2" height="16.2" fill="#000000"/>
<rect x="806.7" y="3189.2" width="16.2" height="16.2" fill="#000000"/>
<rect x="833.8" y="3163.8" width="16.2" height="16.2" fill="#000000"/>
<rect x="860.9" y="3136.7" width="16.2" height="16.2" fill="#000000"/>
<rect x="888.0" y="3127.4" width="16.2" height="16.2" fill="#000000"/>
<rect x="915.0" y="3102.3" width="16.2" height="16.2" fill="#000000"/>
<rect x="942.1" y="3093.5" width="16.2" height="16.2" fill="#000000"/>
<rect x="969.2" y="3059.5" width="16.2" height="16.2" fill="#000000"/>
<rect x="996.2" y="3052.1" width="16.2" height="16.2" fill="#000000"/>
<rect x="1023.3" y="3024.8" width="16.2" height="16.2" fill="#000000"/>
<rect x="1050.4" y="3013.1" width="16.2" height="16.2" fill="#000000"/>
<rect x="1077.4" y="2990.4" width="16.2" height="16.2" fill="#000000"/>
<rect x="1104.5" y="2956.5" width="16.2" height="16.2" fill="#000000"/>
<rect x="1131.6" y="2947.4" width="16.2" height="16.2" fill="#000000"/>
<rect x="1158.6" y="2921.9" width="16.2" height="16.2" fill="#000000"/>
<circle cx="246.4" cy="3608.7" r="9.0" fill="#ff0000"/>
<circle cx="273.5" cy="3585.5" r="9.0" fill="#ff0000"/>
<circle cx="300.5" cy="3567.0" r="9.0" fill="#ff0000"/>
<circle cx="327.6" cy="3547.2" r="9.0" fill="#ff0000"/>
<circle cx="354.7" cy="3523.4" r="9.0" fill="#ff0000"/>
<circle cx="381.7" cy="3514.7" r="9.0" fill="#ff0000"/>
<circle cx="408.8" cy="3490.9" r="9.0" fill="#ff0000"/>
<circle cx="435.9" cy="3473.3" r="9.0" fill="#ff0000"/>
<circle cx="463.0" cy="3444.8" r="9.0" fill="#ff0000"/>
<circle cx="490.0" cy="3436.6" r="9.0" fill="#ff0000"/>
<circle cx="517.1" cy="3411.4" r="9.0" fill="#ff0000"/>
<circle cx="544.2" cy="3385.7" r="9.0" fill="#ff0000"/>
<circle cx="571.2" cy="3368.6" r="9.0" fill="#ff0000"/>
<circle cx="598.3" cy="3342.5" r="9.0" fill="#ff0000"/>
<circle cx="625.4" cy="3325.6" r="9.0" fill="#ff0000"/>
<circle cx="652.4" cy="3308.3" r="9.0" fill="#ff0000"/>
<circle cx="679.5" cy="3308.4" r="9.0" fill="#ff0000"/>
<circle cx="706.6" cy="3272.4" r="9.0" fill="#ff0000"/>
<circle cx="733.6" cy="3256.7" r="9.0" fill="#ff0000"/>
<circle cx="760.7" cy="3256.7" r="9.0" fill="#ff0000"/>
<circle cx="787.8" cy="3222.1" r="9.0" fill="#ff0000"/>
<circle cx="814.8" cy="3214.6" r="9.0" fill="#ff0000"/>
<circle cx="841.9" cy="3188.5" r="9.0" fill="#ff0000"/>
<circle cx="869.0" cy="3170.7" r="9.0" fill="#ff0000"/>
<circle cx="896.1" cy="3153.4" r="9.0" fill="#ff0000"/>
<circle cx="923.1" cy="3128.2" r="9.0" fill="#ff0000"/>
<circle cx="950.2" cy="3093.6" r="9.0" fill="#ff0000"/>
<circle cx="977.3" cy="3085.2" r="9.0" fill="#ff0000"/>
<circle cx="1004.3" cy="3060.2" r="9.0" fill="#ff0000"/>
<circle cx="1031.4" cy="3032.9" r="9.0" fill="#ff0000"/>
<circle cx="1058.5" cy="3015.8" r="9.0" fill="#ff0000"/>
<circle cx="1085.5" cy="2999.0" r="9.0" fill="#ff0000"/>
<circle cx="1112.6" cy="2991.0" r="9.0" fill="#ff0000"/>
<circle cx="1139.7" cy="2974.4" r="9.0" fill="#ff0000"/>
<circle cx="1166.7" cy="2956.0" r="9.0" fill="#ff0000"/>
<polygon points="246.4,3579.5 257.2,3598.7 235.6,3598.7" fill="#0000ff"/>
<polygon points="273.5,3562.4 284.3,3581.6 262.7,3581.6" fill="#0000ff"/>
<polygon points="300.5,3561.8 311.3,3581.0 289.7,3581.0" fill="#0000ff"/>
<polygon points="327.6,3519.9 338.4,3539.1 316.8,3539.1" fill="#0000ff"/>
<polygon points="354.7,3514.5 365.5,3533.7 343.9,3533.7" fill="#0000ff"/>
<polygon points="381.7,3485.8 392.5,3505.0 370.9,3505.0" fill="#0000ff"/>
<polygon points="408.8,3477.6 419.6,3496.8 398.0,3496.8" fill="#0000ff"/>
<polygon points="435.9,3456.8 446.7,3476.0 425.1,3476.0" fill="#0000ff"/>
<polygon points="463.0,3433.5 473.8,3452.7 452.2,3452.7" fill="#0000ff"/>
<polygon points="490.0,3399.5 500.8,3418.7 479.2,3418.7" fill="#0000ff"/>
<polygon points="517.1,3382.3 527.9,3401.5 506.3,3401.5" fill="#0000ff"/>
<polygon points="544.2,3374.6 555.0,3393.8 533.4,3393.8" fill="#0000ff"/>
<polygon points="571.2,3348.2 582.0,3367.4 560.4,3367.4" fill="#0000ff"/>
<polygon points="598.3,3330.6 609.1,3349.8 587.5,3349.8" fill="#0000ff"/>
<polygon points="625.4,3322.2 636.2,3341.4 614.6,3341.4" fill="#0000ff"/>
<polygon points="652.4,3296.0 663.2,3315.2 641.6,3315.2" fill="#0000ff"/>
<polygon points="679.5,3270.1 690.3,3289.3 668.7,3289.3" fill="#0000ff"/>
<polygon points="706.6,3260.1 717.4,3279.3 695.8,3279.3" fill="#0000ff"/>
<polygon points="733.6,3227.8 744.4,3247.0 722.8,3247.0" fill="#0000ff"/>
<polygon points="760.7,3228.0 771.5,3247.2 749.9,3247.2" fill="#0000ff"/>
<polygon points="787.8,3201.2 798.6,3220.4 777.0,3220.4" fill="#0000ff"/>
<polygon points="814.8,3176.1 825.6,3195.3 804.0,3195.3" fill="#0000ff"/>
<polygon points="841.9,3150.4 852.7,3169.6 831.1,3169.6" fill="#0000ff"/>
<polygon points="869.0,3131.8 879.8,3151.0 858.2,3151.0" fill="#0000ff"/>
<polygon points="896.1,3132.9 906.9,3152.1 885.3,3152.1" fill="#0000ff"/>
<polygon points="923.1,3114.7 933.9,3133.9 912.3,3133.9" fill="#0000ff"/>
<polygon points="950.2,3080.8 961.0,3100.0 939.4,3100.0" fill="#0000ff"/>
<polygon points="977.3,3071.5 988.1,3090.7 966.5,3090.7" fill="#0000ff"/>
<polygon points="1004.3,3055.1 1015.1,3074.3 993.5,3074.3" fill="#0000ff"/>
<polygon points="1031.4,3038.0 1042.2,3057.2 1020.6,3057.2" fill="#0000ff"/>
<polygon points="1058.5,3012.5 1069.3,3031.7 1047.7,3031.7" fill="#0000ff"/>
<polygon points="1085.5,2986.8 1096.3,3006.0 1074.7,3006.0" fill="#0000ff"/>
<polygon points="1112.6,2969.3 1123.4,2988.5 1101.8,2988.5" fill="#0000ff"/>
<polygon points="1139.7,2953.4 1150.5,2972.6 1128.9,2972.6" fill="#0000ff"/>
<polygon points="1166.7,2926.1 1177.5,2945.3 1155.9,2945.3" fill="#0000ff"/>
<polygon points="235.6,3620.9 257.2,3620.9 246.4,3640.1" fill="#ff80ff"/>
<polygon points="262.7,3603.7 284.3,3603.7 273.5,3622.9" fill="#ff80ff"/>
<polygon points="289.7,3578.0 311.3,3578.0 300.5,3597.2" fill="#ff80ff"/>
<polygon points="316.8,3551.3 338.4,3551.3 327.6,3570.5" fill="#ff80ff"/>
<polygon points="343.9,3533.6 365.5,3533.6 354.7,3552.8" fill="#ff80ff"/>
<polygon points="370.9,3507.1 392.5,3507.1 381.7,3526.3" fill="#ff80ff"/>
<polygon points="398.0,3499.6 419.6,3499.6 408.8,3518.8" fill="#ff80ff"/>
<polygon points="425.1,3482.8 446.7,3482.8 435.9,3502.0" fill="#ff80ff"/>
<polygon points="452.2,3465.6 473.8,3465.6 463.0,3484.8" fill="#ff80ff"/>
<polygon points="479.2,3439.2 500.8,3439.2 490.0,3458.4" fill="#ff80ff"/>
<polygon points="506.3,3431.2 527.9,3431.2 517.1,3450.4" fill="#ff80ff"/>
<polygon points="533.4,3396.4 555.0,3396.4 544.2,3415.6" fill="#ff80ff"/>
<polygon points="560.4,3387.5 582.0,3387.5 571.2,3406.7" fill="#ff80ff"/>
<polygon points="587.5,3362.5 609.1,3362.5 598.3,3381.7" fill="#ff80ff"/>
<polygon points="614.6,3345.2 636.2,3345.2 625.4,3364.4" fill="#ff80ff"/>
<polygon points="641.6,3319.5 663.2,3319.5 652.4,3338.7" fill="#ff80ff"/>
<polygon points="668.7,3320.0 690.3,3320.0 679.5,3339.2" fill="#ff80ff"/>
<polygon points="695.8,3276.5 717.4,3276.5 706.6,3295.7" fill="#ff80ff"/>
<polygon points="722.8,3267.8 744.4,3267.8 733.6,3287.0" fill="#ff80ff"/>
<polygon points="749.9,3250.8 771.5,3250.8 760.7,3270.0" fill="#ff80ff"/>
<polygon points="777.0,3216.5 798.6,3216.5 787.8,3235.7" fill="#ff80ff"/>
<polygon points="804.0,3199.8 825.6,3199.8 814.8,3219.0" fill="#ff80ff"/>
<polygon points="831.1,3182.3 852.7,3182.3 841.9,3201.5" fill="#ff80ff"/>
<polygon points="858.2,3163.4 879.8,3163.4 869.0,3182.6" fill="#ff80ff"/>
<polygon points="885.3,3138.2 906.9,3138.2 896.1,3157.4" fill="#ff80ff"/>
<polygon points="912.3,3112.4 933.9,3112.4 923.1,3131.6" fill="#ff80ff"/>
<polygon points="939.4,3095.9 961.0,3095.9 950.2,3115.1" fill="#ff80ff"/>
<polygon points="966.5,3086.5 988.1,3086.5 977.3,3105.7" fill="#ff80ff"/>
<polygon points="993.5,3052.6 1015.1,3052.6 1004.3,3071.8" fill="#ff80ff"/>
<polygon points="1020.6,3034.9 1042.2,3034.9 1031.4,3054.1" fill="#ff80ff"/>
<polygon points="1047.7,3018.5 1069.3,3018.5 1058.5,3037.7" fill="#ff80ff"/>
<polygon points="1074.7,3000.0 1096.3,3000.0 1085.5,3019.2" fill="#ff80ff"/>
<polygon points="1101.8,2974.3 1123.4,2974.3 1112.6,2993.5" fill="#ff80ff"/>
<polygon points="1128.9,2966.8 1150.5,2966.8 1139.7,2986.0" fill="#ff80ff"/>
<polygon points="1155.9,2940.2 1177.5,2940.2 1166.7,2959.4" fill="#ff80ff"/>
<line x1="246.4" y1="3605.4" x2="1166.7" y2="2936.8" stroke="#000000" stroke-width="1.8"/>
<line x1="246.4" y1="3606.3" x2="1166.7" y2="2950.2" stroke="#ff0000" stroke-width="1.8"/>
<line x1="246.4" y1="3596.5" x2="1166.7" y2="2945.4" stroke="#0000ff" stroke-width="1.8"/>
<line x1="246.4" y1="3627.3" x2="1166.7" y2="2948.0" stroke="#ff00ff" stroke-width="1.8"/>
<path d="M246.4 3748.7v-16.6M246.4 2874.7v16.6M472.0 3748.7v-16.6M472.0 2874.7v16.6M697.5 3748.7v-16.6M697.5 2874.7v16.6M923.1 3748.7v-16.6M923.1 2874.7v16.6M1148.7 3748.7v-16.6M1148.7 2874.7v16.6M359.2 3748.7v-8.6M359.2 2874.7v8.6M584.8 3748.7v-8.6M584.8 2874.7v8.6M810.3 3748.7v-8.6M810.3 2874.7v8.6M1035.9 3748.7v-8.6M1035.9 2874.7v8.6M133.5 3661.4h16.6M1261.5 3661.4h-16.6M133.5 3486.6h16.6M1261.5 3486.6h-16.6M133.5 3311.8h16.6M1261.5 3311.8h-16.6M133.5 3137.0h16.6M1261.5 3137.0h-16.6M133.5 2962.2h16.6M1261.5 2962.2h-16.6M133.5 3574.0h8.6M1261.5 3574.0h-8.6M133.5 3399.2h8.6M1261.5 3399.2h-8.6M133.5 3224.4h8.6M1261.5 3224.4h-8.6M133.5 3049.6h8.6M1261.5 3049.6h-8.6" stroke="#000" stroke-width="3" fill="none"/>
<rect x="133.5" y="2874.7" width="1128.0" height="874.0" fill="none" stroke="#000" stroke-width="3"/>
<g font-family='"Liberation Serif", "DejaVu Serif", serif' font-weight="bold" font-size="15" letter-spacing="0.3" text-anchor="middle" fill="#000"><rect x="717.7" y="3316.0" width="518.9" height="403.0" fill="#fff"/><line x1="717.7" y1="3340.4" x2="1236.6" y2="3340.4" stroke="#d2d2d2" stroke-width="1"/><line x1="717.7" y1="3380.0" x2="1236.6" y2="3380.0" stroke="#d2d2d2" stroke-width="1"/><line x1="717.7" y1="3426.4" x2="1236.6" y2="3426.4" stroke="#d2d2d2" stroke-width="1"/><line x1="717.7" y1="3449.8" x2="1236.6" y2="3449.8" stroke="#d2d2d2" stroke-width="1"/><line x1="717.7" y1="3489.7" x2="1236.6" y2="3489.7" stroke="#d2d2d2" stroke-width="1"/><line x1="717.7" y1="3529.2" x2="1236.6" y2="3529.2" stroke="#d2d2d2" stroke-width="1"/><line x1="841.6" y1="3553.4" x2="1236.6" y2="3553.4" stroke="#d2d2d2" stroke-width="1"/><line x1="717.7" y1="3576.9" x2="1236.6" y2="3576.9" stroke="#d2d2d2" stroke-width="1"/><line x1="841.6" y1="3601.0" x2="1236.6" y2="3601.0" stroke="#d2d2d2" stroke-width="1"/><line x1="717.7" y1="3625.2" x2="1236.6" y2="3625.2" stroke="#d2d2d2" stroke-width="1"/><line x1="841.6" y1="3648.6" x2="1236.6" y2="3648.6" stroke="#d2d2d2" stroke-width="1"/><line x1="717.7" y1="3671.4" x2="1236.6" y2="3671.4" stroke="#d2d2d2" stroke-width="1"/><line x1="841.6" y1="3695.5" x2="1236.6" y2="3695.5" stroke="#d2d2d2" stroke-width="1"/><line x1="841.6" y1="3316.0" x2="841.6" y2="3719.0" stroke="#d2d2d2" stroke-width="1"/><line x1="957.3" y1="3316.0" x2="957.3" y2="3719.0" stroke="#d2d2d2" stroke-width="1"/><line x1="1035.9" y1="3316.0" x2="1035.9" y2="3719.0" stroke="#d2d2d2" stroke-width="1"/><line x1="1157.2" y1="3316.0" x2="1157.2" y2="3719.0" stroke="#d2d2d2" stroke-width="1"/><rect x="717.7" y="3316.0" width="518.9" height="403.0" fill="none" stroke="#8c8c8c" stroke-width="1.2"/><text x="781.5" y="3334.1">Equation</text><text x="781.5" y="3366.1">Weight</text><text x="781.5" y="3400.1">Residual Sum of</text><text x="781.5" y="3418.1">Squares</text><text x="781.5" y="3444.0">Pearson's r</text><text x="781.5" y="3475.7">Adj. R-Square</text><text x="900.2" y="3331.7">y = a + b*x</text><text x="900.2" y="3356.1">No Weighting</text><text x="900.2" y="3395.7">0.07004</text><text x="997.4" y="3395.7">0.06799</text><text x="1097.4" y="3395.7">0.06413</text><text x="1197.7" y="3395.7">0.04468</text><text x="900.2" y="3442.1">0.99923</text><text x="997.4" y="3442.1">0.99922</text><text x="1097.4" y="3442.1">0.99925</text><text x="1197.7" y="3442.1">0.99952</text><text x="900.2" y="3465.5">0.99841</text><text x="997.4" y="3465.5">0.99839</text><text x="1097.4" y="3465.5">0.99846</text><text x="1197.7" y="3465.5">0.99901</text><text x="997.4" y="3505.4">Value</text><text x="1097.4" y="3505.4">Standard Error</text><text x="781.5" y="3559.0">F</text><text x="900.2" y="3544.9">Intercept</text><text x="900.2" y="3569.1">Slope</text><text x="997.4" y="3544.9">0.32014</text><text x="997.4" y="3569.1">0.01875</text><text x="1097.4" y="3544.9">0.01525</text><text x="1097.4" y="3569.1">1.28508E-4</text><text x="781.5" y="3607.0">G</text><text x="900.2" y="3592.6">Intercept</text><text x="900.2" y="3616.7">Slope</text><text x="997.4" y="3592.6">0.31499</text><text x="997.4" y="3616.7">0.0184</text><text x="1097.4" y="3592.6">0.01502</text><text x="1097.4" y="3616.7">1.26615E-4</text><text x="781.5" y="3654.2">H</text><text x="900.2" y="3640.9">Intercept</text><text x="900.2" y="3664.3">Slope</text><text x="997.4" y="3640.9">0.37119</text><text x="997.4" y="3664.3">0.01826</text><text x="1097.4" y="3640.9">0.01459</text><text x="1097.4" y="3664.3">1.22966E-4</text><text x="781.5" y="3701.1">I</text><text x="900.2" y="3687.1">Intercept</text><text x="900.2" y="3711.2">Slope</text><text x="997.4" y="3687.1">0.19508</text><text x="997.4" y="3711.2">0.01905</text><text x="1097.4" y="3687.1">0.01218</text><text x="1097.4" y="3711.2">1.02642E-4</text></g>
<rect x="191.5" y="2894.5" width="238.3" height="381.2" fill="#000"/>
<rect x="179.2" y="2882.2" width="238.3" height="381.2" fill="#fff" stroke="#6e6e6e" stroke-width="1"/>
<g font-family='"Liberation Serif", "DejaVu Serif", serif' font-weight="bold" font-size="32" fill="#000">
<rect x="235.0" y="2921.2" width="16.2" height="16.2" fill="#000000"/>
<text x="280.6" y="2943.1">group 1</text>
<circle cx="243.1" cy="2973.3" r="9.0" fill="#ff0000"/>
<text x="280.6" y="2987.6">group 2</text>
<polygon points="243.1,3006.0 253.9,3025.2 232.3,3025.2" fill="#0000ff"/>
<text x="280.6" y="3032.1">group 3</text>
<polygon points="232.3,3056.9 253.9,3056.9 243.1,3076.1" fill="#ff80ff"/>
<text x="280.6" y="3076.6">group 4</text>
<line x1="206.2" y1="3108.0" x2="280.1" y2="3108.0" stroke="#000000" stroke-width="1.5"/>
<text x="298.6" y="3121.1">fitting 1</text>
<line x1="206.2" y1="3152.5" x2="280.1" y2="3152.5" stroke="#ff0000" stroke-width="1.5"/>
<text x="298.6" y="3165.6">fitting 2</text>
<line x1="206.2" y1="3197.0" x2="280.1" y2="3197.0" stroke="#0000ff" stroke-width="1.5"/>
<text x="298.6" y="3210.1">fitting 3</text>
<line x1="206.2" y1="3241.5" x2="280.1" y2="3241.5" stroke="#ff00ff" stroke-width="1.5"/>
<text x="298.6" y="3254.6">fitting 4</text>
</g>
<g font-family='"Liberation Serif", "DejaVu Serif", serif' font-weight="bold" font-size="33.5" fill="#000">
<text x="246.6" y="3793.7" text-anchor="middle">0</text>
<text x="472.2" y="3793.7" text-anchor="middle">50</text>
<text x="697.8" y="3793.7" text-anchor="middle">100</text>
<text x="923.3" y="3793.7" text-anchor="middle">150</text>
<text x="1148.9" y="3793.7" text-anchor="middle">200</text>
<text x="115.2" y="3671.4" text-anchor="end">0</text>
<text x="115.2" y="3496.6" text-anchor="end">1</text>
<text x="115.2" y="3321.8" text-anchor="end">2</text>
<text x="115.2" y="3147.0" text-anchor="end">3</text>
<text x="115.2" y="2972.2" text-anchor="end">4</text>
</g>
<text x="699" y="3859.9" text-anchor="middle" font-family='"Liberation Serif", "DejaVu Serif", serif' font-weight="bold" font-size="39.6" fill="#000">Time (s)</text>
<text transform="translate(82.6 3311.7) rotate(-90)" text-anchor="middle" font-family='"Liberation Serif", "DejaVu Serif", serif' font-weight="bold" font-size="41" word-spacing="3.7" fill="#000">Pyrolysis front position (cm)</text>
<text x="666.8" y="4080.8" text-anchor="middle" font-family='"Liberation Serif", "DejaVu Serif", serif' font-size="68" letter-spacing="-0.5" fill="#000">(<tspan font-weight="bold">c</tspan>)</text>
</g>
</svg></body></html>
